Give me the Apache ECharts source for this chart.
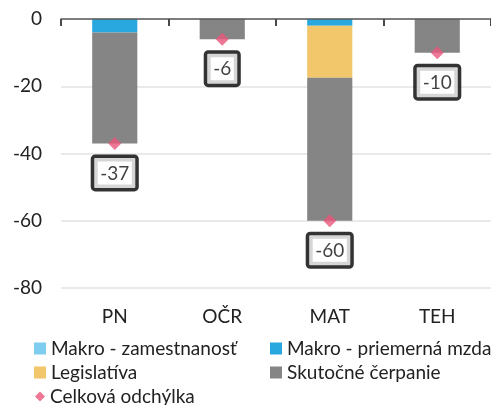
<!DOCTYPE html>
<html>
<head>
<meta charset="utf-8">
<script src="https://cdn.jsdelivr.net/npm/echarts@6/dist/echarts.min.js"></script>
<style>
  html, body { margin: 0; padding: 0; background: #fff; }
  #chart { width: 491px; height: 405px; }
</style>
</head>
<body>
<div id="chart"></div>
<script>
// kategórie a hodnoty
const categories = ['PN', 'OČR', 'MAT', 'TEH'];
const zamestnanost = [0, 0, 0, 0];
const priemernaMzda = [-4, 0, -2, 0];
const legislativa = [0, 0, -15.5, 0];
const skutocneCerpanie = [-33, -6, -42.5, -10];
const celkovaOdchylka = [-37, -6, -60, -10];
const yTicks = [0, -20, -40, -60, -80];

const FONT = 'Lato, "Open Sans", sans-serif';
const FS = 19;

const colors = {
  zam: '#7ecdee',
  mzda: '#29a8e0',
  leg: '#f2c76b',
  cerp: '#858585',
  odch: '#e8557a'
};

const chart = echarts.init(document.getElementById('chart'));

const barSeries = (name, data, color) => ({
  name: name,
  type: 'bar',
  stack: 'total',
  data: data,
  barWidth: '42%',
  itemStyle: { color: color },
  xAxisIndex: 1
});

// jedna legenda na položku, aby sedeli stĺpce ako v origináli
const legendItem = (name, left, top, icon) => ({
  data: [name],
  left: left,
  top: top,
  padding: 0,
  icon: icon || 'rect',
  itemWidth: icon ? 10 : 12,
  itemHeight: icon ? 10 : 12,
  itemGap: 4,
  textStyle: { fontFamily: FONT, fontSize: FS, color: '#222' },
  selectedMode: false
});

const option = {
  animation: false,
  textStyle: { fontFamily: FONT, fontSize: FS },
  grid: { left: 61, right: 0, top: 19, height: 269 },
  legend: [
    legendItem('Makro - zamestnanosť', 34, 339),
    legendItem('Makro - priemerná mzda', 270, 339),
    legendItem('Legislatíva', 34, 363),
    legendItem('Skutočné čerpanie', 270, 363),
    legendItem('Celková odchýlka', 35, 387, 'diamond')
  ],
  xAxis: [
    {
      // os na nule: čiara a zárezy medzi kategóriami
      type: 'value',
      min: 0,
      max: categories.length,
      interval: 1,
      position: 'top',
      z: 10,
      axisLine: { show: true, onZero: false, lineStyle: { color: '#595959', width: 1.5 } },
      axisTick: { show: true, inside: true, length: 7, lineStyle: { color: '#4a4a4a', width: 2 } },
      axisLabel: { show: false },
      splitLine: { show: false }
    },
    {
      type: 'category',
      data: categories,
      position: 'bottom',
      axisLine: { show: false, onZero: false },
      axisTick: { show: false },
      axisLabel: { fontFamily: FONT, fontSize: FS, color: '#222', margin: 19 }
    }
  ],
  yAxis: {
    type: 'value',
    min: -80,
    max: 0,
    interval: 20,
    axisLine: { show: false },
    axisTick: { show: false },
    axisLabel: { fontFamily: FONT, fontSize: FS, color: '#222', margin: 19 },
    splitLine: {
      lineStyle: { color: '#e3e3e3', width: 1.5 }
    }
  },
  series: [
    barSeries('Makro - zamestnanosť', zamestnanost, colors.zam),
    barSeries('Makro - priemerná mzda', priemernaMzda, colors.mzda),
    barSeries('Legislatíva', legislativa, colors.leg),
    barSeries('Skutočné čerpanie', skutocneCerpanie, colors.cerp),
    {
      name: 'Celková odchýlka',
      type: 'scatter',
      xAxisIndex: 1,
      data: celkovaOdchylka,
      symbol: 'diamond',
      symbolSize: 13,
      itemStyle: { color: colors.odch },
      z: 5,
      label: {
        show: true,
        position: 'bottom',
        distance: 8,
        fontFamily: FONT,
        fontSize: FS,
        color: '#111',
        backgroundColor: '#fff',
        borderColor: '#000',
        borderWidth: 3.5,
        borderRadius: 1,
        padding: [6, 6, 5, 6]
      }
    }
  ]
};

chart.setOption(option);
</script>
</body>
</html>
